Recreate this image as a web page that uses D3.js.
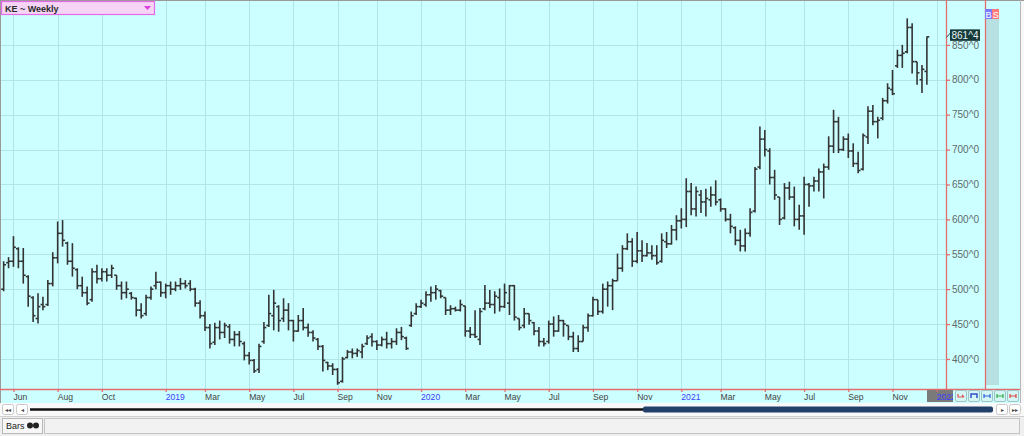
<!DOCTYPE html>
<html><head><meta charset="utf-8">
<script src="https://cdn.jsdelivr.net/npm/d3@7"></script>
<style>
html,body{margin:0;padding:0;overflow:hidden;background:#fff;}
svg{display:block;font-family:"Liberation Sans",Arial,sans-serif;}
</style>
</head><body>
<svg id="c" width="1024" height="436"></svg>
<script>
// ---------- data ----------
const title = "KE ~ Weekly";
const firstBarDate = "2018-05-18";   // weekly bars, one per week
const opens = [
500,538,540,558,540,518,488,458,478,478,
508,545,580,566,540,528,505,495,485,525,
515,525,520,520,505,495,494,487,470,465,
488,505,510,495,505,500,505,508,508,500,
480,462,445,424,445,438,446,428,435,422,
405,398,385,425,448,462,475,458,470,455,
440,455,445,438,428,418,395,390,385,368,
402,410,408,410,422,432,425,420,428,422,
425,438,430,448,465,475,478,492,495,498,
488,470,472,470,476,440,435,428,472,480,
478,488,475,480,505,458,448,465,452,440,
425,425,450,440,455,448,432,415,425,445,
462,485,468,500,505,512,530,558,568,540,
555,548,552,548,540,568,565,585,598,600,
640,615,635,625,628,635,628,615,600,588,
570,562,580,612,675,715,698,660,632,602,
645,632,600,605,650,648,655,668,675,705,
740,700,715,698,680,672,718,755,740,745,
770,786,820,835,840,875,826,800,812];
const highs = [
540,546,576,560,559,520,490,494,489,513,
553,597,599,568,566,530,518,504,530,535,
530,530,535,520,511,511,496,488,480,492,
504,525,511,508,511,511,516,513,513,502,
484,468,450,452,455,452,450,440,440,425,
410,400,422,453,492,499,477,487,480,456,
463,473,451,441,430,420,396,394,387,403,
413,415,415,422,434,437,427,432,439,430,
444,446,432,468,480,485,497,504,506,499,
488,477,475,485,476,446,470,473,506,499,
497,501,508,506,506,458,473,465,453,446,
430,455,461,463,456,448,439,434,449,465,
489,485,508,511,515,551,563,580,573,582,
570,566,563,563,580,582,592,606,616,659,
652,647,642,644,647,656,630,616,608,590,
585,587,616,675,733,728,702,671,632,652,
654,647,621,661,652,661,673,680,719,757,
747,719,723,709,697,723,762,764,747,774,
795,814,843,850,888,881,826,821,862];
const lows = [
497,530,532,530,508,475,453,451,470,476,
504,537,561,535,518,500,489,477,482,508,
511,511,516,499,485,487,485,461,458,462,
485,500,489,487,492,497,499,501,497,475,
458,440,415,420,428,430,422,418,418,398,
392,380,380,422,446,441,439,453,441,425,
439,441,432,425,413,382,384,377,363,366,
401,401,403,401,420,418,413,418,415,415,
420,427,413,446,463,473,475,482,485,487,
463,463,468,468,432,430,430,420,470,473,
465,468,473,463,455,441,444,449,434,418,
418,422,432,439,432,427,410,410,425,439,
461,463,465,475,470,512,525,556,532,537,
539,547,542,535,538,559,564,570,587,589,
606,604,609,604,618,620,611,597,580,563,
554,554,575,610,672,690,650,628,592,600,
628,590,585,578,618,640,640,630,671,695,
695,698,688,675,666,670,708,735,716,742,
766,778,817,817,838,809,793,781,793];
const closes = [
535,540,560,540,520,490,462,475,475,508,
545,580,570,540,530,505,495,480,525,515,
525,520,530,505,495,500,488,470,462,488,
500,510,495,505,500,505,508,505,500,480,
462,445,422,445,438,448,428,435,425,405,
398,383,418,445,465,480,455,470,455,440,
455,445,438,430,418,398,390,385,366,400,
410,408,412,418,430,425,420,428,422,425,
438,432,415,462,475,480,492,495,500,490,
470,472,470,478,440,435,432,468,480,478,
490,475,495,505,460,445,465,455,440,425,
422,450,440,455,450,432,415,425,445,462,
485,468,500,505,512,530,558,568,540,555,
548,552,548,538,570,565,585,598,600,640,
615,640,625,630,635,625,615,600,590,570,
562,580,610,672,715,700,660,635,600,645,
632,600,605,650,648,655,668,675,705,740,
700,715,698,680,670,720,755,740,742,770,
788,780,835,838,875,826,810,815,861.5];
const priceTicks = [400,450,500,550,600,650,700,750,800,850];
const timeTickDates = ["2018-06-01","2018-08-03","2018-10-05","2019-01-04","2019-03-01","2019-05-03",
  "2019-07-05","2019-09-06","2019-11-01","2020-01-03","2020-03-06","2020-05-01","2020-07-03",
  "2020-09-04","2020-11-06","2021-01-08","2021-03-05","2021-05-07","2021-07-02","2021-09-03",
  "2021-11-05","2022-01-07"];
const timeTickLabels = ["Jun","Aug","Oct","2019","Mar","May","Jul","Sep","Nov","2020","Mar","May",
  "Jul","Sep","Nov","2021","Mar","May","Jul","Sep","Nov","2022"];
const lastLabel = "861^4";

// ---------- setup ----------
const parse = d3.timeParse("%Y-%m-%d");
const start = parse(firstBarDate);
const dates = opens.map((_, i) => d3.timeDay.offset(start, 7 * i));
const tickDates = timeTickDates.map(parse);

const plotR = 946, plotB = 389;
const x = d3.scaleTime().domain([parse("2019-01-04"), parse("2022-01-07")]).range([165.7, 936.7]);
const y = d3.scaleLinear().domain([357, 914.3]).range([plotB, 0]);

const BG = "#ccffff", GRID = "#b2e6e6", RED = "#e46c6c", BAR = "#333333";
const svg = d3.select("#c");
const defs = svg.append("defs");
defs.append("clipPath").attr("id","plotclip").append("rect")
  .attr("x",0).attr("y",0).attr("width",plotR).attr("height",plotB);
defs.append("clipPath").attr("id","axclip").append("rect")
  .attr("x",0).attr("y",0).attr("width",953).attr("height",14);

// backgrounds
svg.append("rect").attr("width",1024).attr("height",436).attr("fill","#f7f7f7");
svg.append("rect").attr("x",0).attr("y",0).attr("width",1020).attr("height",403).attr("fill",BG);
svg.append("rect").attr("x",986).attr("y",9).attr("width",13).attr("height",376).attr("fill","#b6e0e1");

// gridlines
const grid = svg.append("g").attr("clip-path","url(#plotclip)");
grid.selectAll("line.h").data(priceTicks).join("line")
  .attr("x1",0).attr("x2",plotR).attr("y1",d=>Math.round(y(d))+0.5).attr("y2",d=>Math.round(y(d))+0.5)
  .attr("stroke",GRID).attr("stroke-width",1);
grid.selectAll("line.v").data(tickDates).join("line")
  .attr("x1",d=>Math.round(x(d))+0.5).attr("x2",d=>Math.round(x(d))+0.5).attr("y1",0).attr("y2",plotB)
  .attr("stroke",GRID).attr("stroke-width",1);

// bars
const bg = svg.append("g").attr("clip-path","url(#plotclip)")
  .attr("stroke",BAR).attr("stroke-width",1.6).attr("fill","none");
const idx = d3.range(opens.length);
const bar = bg.selectAll("g").data(idx).join("g");
bar.append("line").attr("x1",i=>x(dates[i])).attr("x2",i=>x(dates[i]))
  .attr("y1",i=>y(highs[i])).attr("y2",i=>y(lows[i]));
bar.append("line").attr("x1",i=>x(dates[i])-2.4).attr("x2",i=>x(dates[i]))
  .attr("y1",i=>y(opens[i])).attr("y2",i=>y(opens[i]));
bar.append("line").attr("x1",i=>x(dates[i])).attr("x2",i=>x(dates[i])+2.4)
  .attr("y1",i=>y(closes[i])).attr("y2",i=>y(closes[i]));

// frame lines
svg.append("line").attr("x1",0).attr("x2",1024).attr("y1",0.5).attr("y2",0.5).attr("stroke","#9a9a9a");
svg.append("line").attr("x1",0.5).attr("x2",0.5).attr("y1",0).attr("y2",403).attr("stroke","#9a9a9a");
svg.append("line").attr("x1",1020.5).attr("x2",1020.5).attr("y1",0).attr("y2",403).attr("stroke","#b8b8b8");
svg.append("line").attr("x1",0).attr("x2",1020).attr("y1",plotB+0.5).attr("y2",plotB+0.5).attr("stroke",RED).attr("stroke-width",1.3);
svg.append("line").attr("x1",plotR+0.5).attr("x2",plotR+0.5).attr("y1",0).attr("y2",plotB).attr("stroke",RED).attr("stroke-width",1.3);
svg.append("line").attr("x1",985.5).attr("x2",985.5).attr("y1",0).attr("y2",plotB).attr("stroke",RED).attr("stroke-width",1.3);

// 2022 gray box
svg.append("rect").attr("x",927).attr("y",plotB+1).attr("width",26).attr("height",12).attr("fill","#7a7a7a");

// x axis
const xAxis = d3.axisBottom(x).tickValues(tickDates).tickSize(3).tickPadding(0)
  .tickFormat((d,i)=>timeTickLabels[i]);
const gx = svg.append("g").attr("transform",`translate(0,${plotB})`).attr("clip-path","url(#axclip)").call(xAxis);
gx.select(".domain").remove();
gx.selectAll(".tick line").attr("stroke",RED).attr("stroke-width",1.3);
gx.selectAll(".tick text").attr("text-anchor","start").attr("x",-0.5).attr("y",11).attr("dy",0)
  .attr("font-size","8.6px").attr("font-family","Liberation Sans, Arial, sans-serif")
  .attr("fill",(d,i)=>/^\d{4}$/.test(timeTickLabels[i]) ? "#3d3dff" : "#444");

// y axis
const yAxis = d3.axisRight(y).tickValues(priceTicks).tickSize(4).tickPadding(2).tickFormat(d=>d+"^0");
const gy = svg.append("g").attr("transform",`translate(${plotR},0)`).call(yAxis);
gy.select(".domain").remove();
gy.selectAll(".tick line").attr("stroke",RED).attr("stroke-width",1.3);
gy.selectAll(".tick text").attr("font-size","10px").attr("fill","#5f6b6b")
  .attr("font-family","Liberation Sans, Arial, sans-serif");

// last price label
const lastY = y(closes[closes.length-1]);
svg.append("line").attr("x1",plotR+0.5).attr("y1",lastY+0.5).attr("x2",951).attr("y2",lastY-4.5)
  .attr("stroke","#2a4a4a").attr("stroke-width",1);
svg.append("rect").attr("x",950).attr("y",lastY-7.5).attr("width",30).attr("height",11.5).attr("fill","#163a3a");
svg.append("text").attr("x",951.5).attr("y",lastY+2).attr("font-size","10px").attr("fill","#e8f4f4")
  .text(lastLabel);

// B S boxes
svg.append("rect").attr("x",985).attr("y",9).attr("width",7).attr("height",10).attr("fill","#7b7bff");
svg.append("rect").attr("x",992).attr("y",9).attr("width",7).attr("height",10).attr("fill","#ff7b7b");
svg.append("text").attr("x",985.6).attr("y",17.5).attr("font-size","9px").attr("fill","#fff").text("B");
svg.append("text").attr("x",992.8).attr("y",17.5).attr("font-size","9px").attr("fill","#fff").text("S");

// title box
svg.append("rect").attr("x",1.5).attr("y",1.5).attr("width",153).attr("height",13)
  .attr("fill","#f5d4f6").attr("stroke","#e46ae6").attr("stroke-width",1.2);
svg.append("text").attr("x",5).attr("y",11.5).attr("font-size","9px").attr("fill","#2a2a2a")
  .attr("font-weight","bold").text(title);
svg.append("path").attr("d","M144,6 L151,6 L147.5,10 Z").attr("fill","#e03ce0");

// small toolbar buttons in the axis row
const btnX = [955,968,981,994,1007];
const btnCol = ["#e05050","#3050d0","#3060e0","#30b040","#e04040"];
btnX.forEach((bx,k)=>{
  svg.append("rect").attr("x",bx+0.5).attr("y",390.5).attr("width",11).attr("height",11)
    .attr("rx",1.5).attr("fill","#d6f6f6").attr("stroke","#9fc4c4");
  const c = btnCol[k], cx = bx+6, cy = 396;
  if (k===0) svg.append("path").attr("d",`M${cx-3},${cy-2} L${cx-3},${cy+1} L${cx+3},${cy+1} M${cx+1},${cy-1} L${cx+3},${cy+1}`).attr("stroke",c).attr("fill","none").attr("stroke-width",1.2);
  else if (k===1) svg.append("path").attr("d",`M${cx-3},${cy+2} L${cx-3},${cy-2} L${cx+3},${cy-2} L${cx+3},${cy+2}`).attr("stroke",c).attr("fill","none").attr("stroke-width",1.5);
  else svg.append("path").attr("d",`M${cx-3},${cy} L${cx+3},${cy} M${cx-3},${cy-2} L${cx-3},${cy+2} M${cx+3},${cy-2} L${cx+3},${cy+2}`).attr("stroke",c).attr("fill","none").attr("stroke-width",1.2);
});

// scrollbar row
svg.append("rect").attr("x",0).attr("y",403).attr("width",1024).attr("height",13).attr("fill","#f9f9f9");
[[2,"◂◂"],[16,"◂"],[996,"▸"],[1009,"▸▸"]].forEach(([bx,t])=>{
  svg.append("rect").attr("x",bx+0.5).attr("y",404.5).attr("width",11).attr("height",10).attr("rx",2)
    .attr("fill","#ffffff").attr("stroke","#c8c8c8");
  svg.append("text").attr("x",bx+6).attr("y",412).attr("text-anchor","middle").attr("font-size","6px")
    .attr("fill","#444").text(t);
});
svg.append("line").attr("x1",30).attr("x2",992).attr("y1",409.5).attr("y2",409.5).attr("stroke","#111").attr("stroke-width",2.5);
svg.append("rect").attr("x",643).attr("y",406.5).attr("width",350).attr("height",6).attr("rx",2).attr("fill","#22406a");

// bottom bar
svg.append("rect").attr("x",0).attr("y",416).attr("width",1024).attr("height",20).attr("fill","#efefef");
svg.append("line").attr("x1",0).attr("x2",1024).attr("y1",416.5).attr("y2",416.5).attr("stroke","#d0d0d0");
svg.append("rect").attr("x",44.5).attr("y",418.5).attr("width",975).attr("height",15).attr("fill","#f2f2f2").attr("stroke","#c4c4c4");
svg.append("rect").attr("x",2.5).attr("y",418.5).attr("width",40).attr("height",15).attr("fill","#f7f7f7").attr("stroke","#b8b8b8");
svg.append("text").attr("x",6).attr("y",429).attr("font-size","9px").attr("fill","#222").text("Bars");
svg.append("circle").attr("cx",30).attr("cy",425.5).attr("r",3).attr("fill","#222");
svg.append("circle").attr("cx",36).attr("cy",425.5).attr("r",3).attr("fill","#222");
</script>
</body></html>
